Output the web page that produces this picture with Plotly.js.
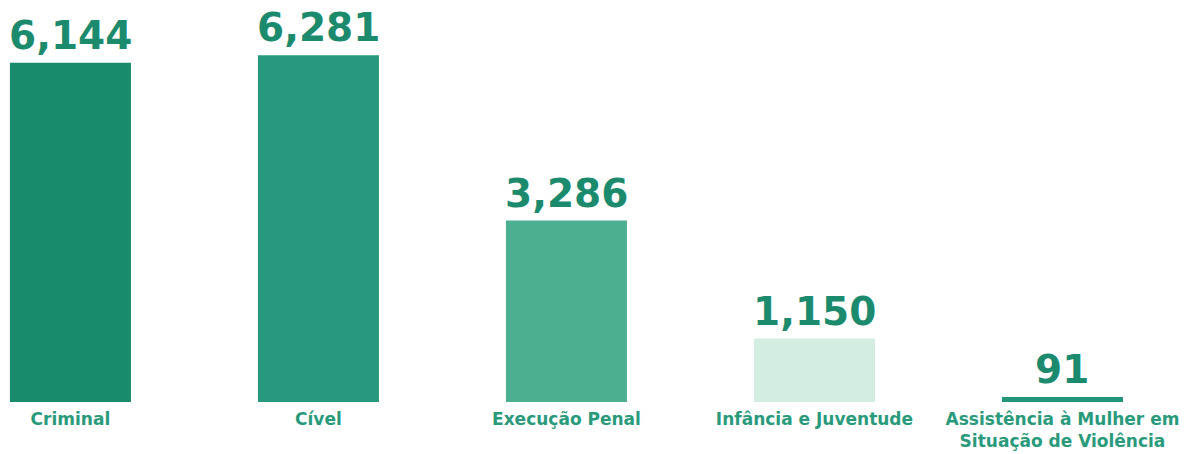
<!DOCTYPE html>
<html>
<head>
<meta charset="utf-8">
<script src="https://cdn.plot.ly/plotly-3.0.1.min.js"></script>
<style>
  html, body { margin: 0; padding: 0; background: #ffffff; }
  #chart { width: 1184px; height: 454px; }
</style>
</head>
<body>
<div id="chart"></div>
<script>
// categories and values
var categories = ['Criminal', 'Cível', 'Execução Penal', 'Infância e Juventude', 'Assistência à Mulher em<br>Situação de Violência'];
var values = [6144, 6281, 3286, 1150, 91];
var barColors = ['#188b6d', '#28997c', '#4caf91', '#d3ede0', '#23967a'];

var positions = categories.map(function (c, i) { return i; });

var trace = {
    x: positions,
    y: values,
    type: 'bar',
    marker: {color: barColors},
    hoverinfo: 'none'
};

// value labels above each bar
var labels = values.map(function (v, i) {
    return {
        x: positions[i],
        y: v,
        xref: 'x',
        yref: 'y',
        text: v.toLocaleString('en-US'),
        showarrow: false,
        yanchor: 'bottom',
        yshift: 3,
        font: {family: 'DejaVu Sans', size: 39, weight: 'bold', color: '#1b8a6d'}
    };
});

var layout = {
    width: 1184,
    height: 454,
    margin: {l: 0, r: 0, t: 0, b: 52},
    paper_bgcolor: '#ffffff',
    plot_bgcolor: '#ffffff',
    showlegend: false,
    bargap: 0.512,
    annotations: labels,
    xaxis: {
        range: [-0.284, 4.49],
        tickvals: positions,
        ticktext: categories,
        showgrid: false,
        zeroline: false,
        showline: false,
        ticks: '',
        ticklabelstandoff: 5,
        tickfont: {family: 'DejaVu Sans', size: 17, weight: 'bold', color: '#2a9a7c'}
    },
    yaxis: {
        range: [0, 7283],
        visible: false,
        showgrid: false,
        zeroline: false
    }
};

Plotly.newPlot('chart', [trace], layout, {staticPlot: true});
</script>
</body>
</html>
